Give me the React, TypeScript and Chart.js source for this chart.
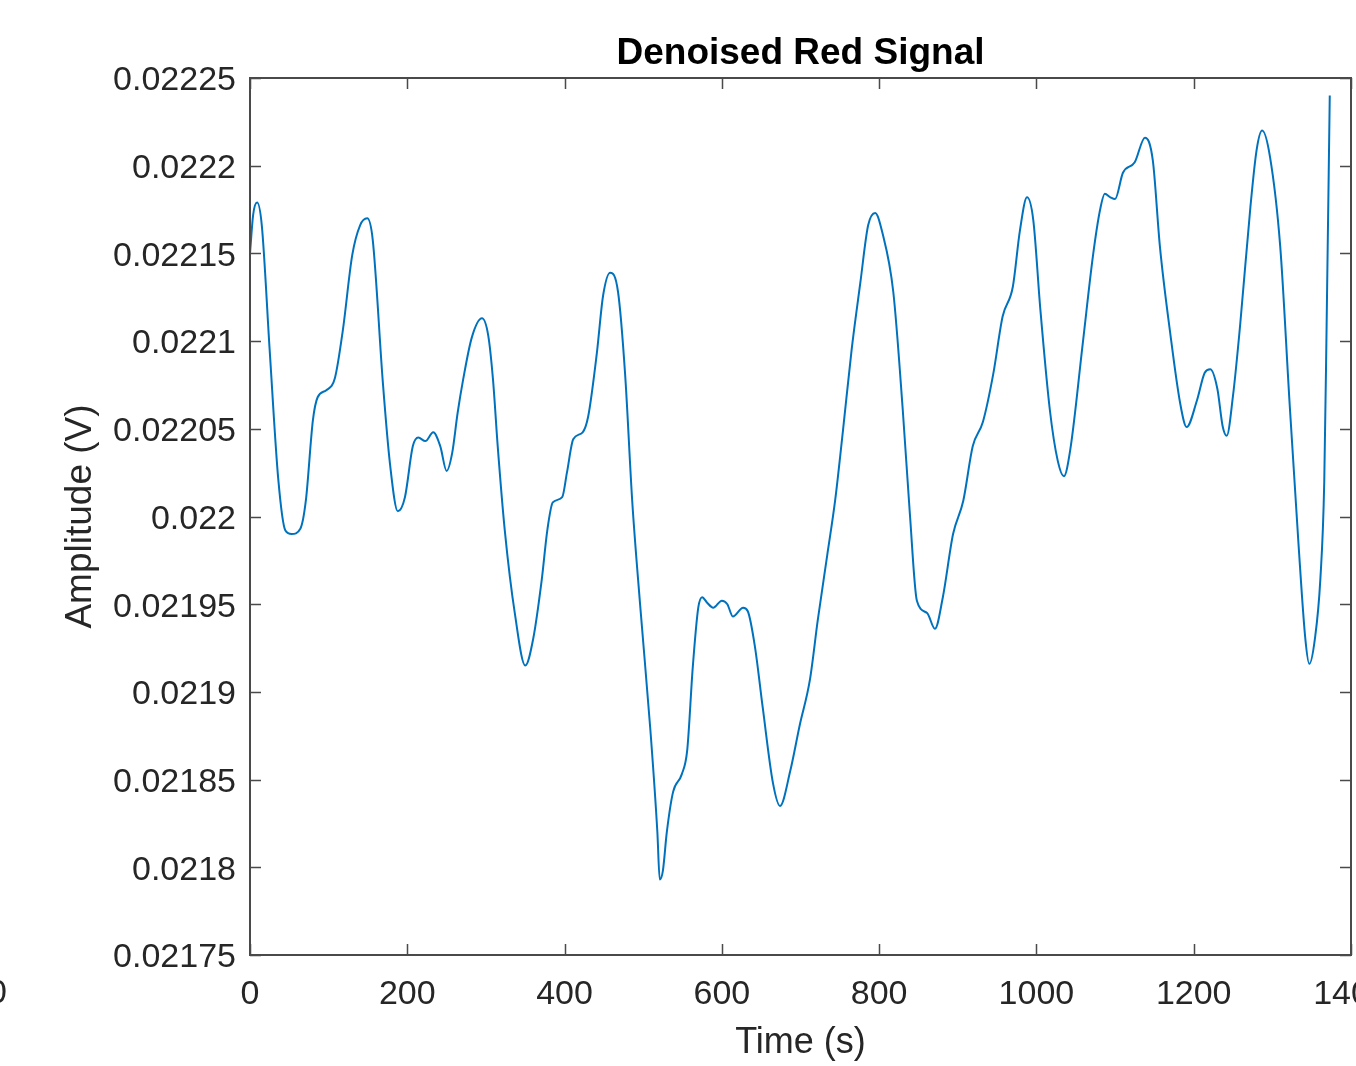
import React, { useEffect, useRef } from "react";
import { Chart, registerables } from "chart.js";

Chart.register(...registerables);

const chartTitle = "Denoised Red Signal";
const xAxisTitle = "Time (s)";
const yAxisTitle = "Amplitude (V)";

const xTicks = [0, 200, 400, 600, 800, 1000, 1200, 1400];
const xTickLabels = ["0", "200", "400", "600", "800", "1000", "1200", "1400"];
const yTicks = [0.02175, 0.0218, 0.02185, 0.0219, 0.02195, 0.022, 0.02205, 0.0221, 0.02215, 0.0222, 0.02225];
const yTickLabels = ["0.02175", "0.0218", "0.02185", "0.0219", "0.02195", "0.022", "0.02205", "0.0221", "0.02215", "0.0222", "0.02225"];

const timeSec = [
  0, 4, 9, 15, 25, 36, 45, 53, 64, 71, 80, 86, 97, 108, 118, 130, 140, 149, 156, 169,
  178, 188, 197, 207, 214, 223, 233, 242, 250, 257, 264, 271, 282, 295, 303, 309, 315, 324, 337, 350,
  360, 371, 378, 385, 397, 403, 411, 423, 430, 441, 449, 458, 468, 477, 486, 496, 509, 518, 521, 525,
  530, 538, 549, 556, 563, 570, 575, 581, 589, 600, 607, 614, 627, 633, 642, 652, 665, 674, 687, 699,
  712, 722, 734, 744, 754, 765, 776, 786, 795, 804, 818, 830, 839, 848, 861, 871, 881, 894, 907, 919,
  932, 945, 957, 970, 979, 988, 996, 1005, 1017, 1027, 1035, 1043, 1059, 1072, 1081, 1087, 1094, 1100, 1110, 1125,
  1138, 1148, 1157, 1170, 1183, 1191, 1204, 1214, 1221, 1230, 1237, 1242, 1250, 1259, 1272, 1280, 1287, 1297, 1310, 1322,
  1333, 1342, 1347, 1354, 1361, 1366, 1369, 1373,
];

const amplitudeV = [
  0.02215, 0.022172, 0.022179, 0.022166, 0.022095, 0.022021, 0.021992, 0.02199, 0.021993, 0.022009,
  0.022055, 0.022068, 0.022072, 0.022079, 0.022106, 0.022149, 0.022166, 0.02217, 0.022158, 0.022076,
  0.02203, 0.022003, 0.022011, 0.02204, 0.022045, 0.022043, 0.022048, 0.02204, 0.022026, 0.022036,
  0.022059, 0.022078, 0.022102, 0.022113, 0.022103, 0.022078, 0.02204, 0.021992, 0.021944, 0.021915,
  0.02193, 0.021964, 0.021992, 0.022008, 0.022011, 0.022025, 0.022044, 0.022048, 0.022057, 0.022093,
  0.022126, 0.022139, 0.022128, 0.022081, 0.022009, 0.02195, 0.021879, 0.02182, 0.021793, 0.021798,
  0.02182, 0.021843, 0.021853, 0.021867, 0.021914, 0.021948, 0.021954, 0.021951, 0.021948, 0.021952,
  0.02195, 0.021943, 0.021948, 0.021946, 0.021926, 0.021891, 0.021848, 0.021835, 0.021855, 0.021881,
  0.021907, 0.021941, 0.021978, 0.022009, 0.022049, 0.022095, 0.022133, 0.022166, 0.022173, 0.022162,
  0.022128, 0.022061, 0.022002, 0.021952, 0.021945, 0.021936, 0.021954, 0.02199, 0.022009, 0.02204,
  0.022054, 0.022081, 0.022114, 0.022131, 0.022163, 0.022182, 0.022169, 0.022118, 0.022061, 0.022032,
  0.022023, 0.022038, 0.022099, 0.022149, 0.022175, 0.022184, 0.022182, 0.022181, 0.022196, 0.022202,
  0.022216, 0.022203, 0.022154, 0.022105, 0.022064, 0.022051, 0.022066, 0.022082, 0.022084, 0.022073,
  0.022051, 0.022046, 0.022069, 0.022109, 0.022176, 0.022209, 0.02222, 0.022205, 0.022154, 0.022064,
  0.021986, 0.02193, 0.021916, 0.02193, 0.021964, 0.02202, 0.022109, 0.02224,
];

const FONT = "'Liberation Sans', Arial, Helvetica, sans-serif";
const AXIS_COLOR = "#262626";
const FRAME_COLOR = "#4a4a4a";
const LINE_COLOR = "#0072BD";

const framePlugin = {
  id: "matlabFrame",
  afterDatasetsDraw(chart: any) {
    const { ctx, chartArea, scales } = chart;
    const { left, right, top, bottom } = chartArea;
    const tickLen = 11;
    ctx.save();
    ctx.strokeStyle = FRAME_COLOR;
    ctx.lineWidth = 2;
    ctx.strokeRect(left, top, right - left, bottom - top);
    ctx.lineWidth = 1.5;
    ctx.beginPath();
    for (const v of xTicks) {
      const px = Math.round(scales.x.getPixelForValue(v)) + 0.5;
      ctx.moveTo(px, bottom);
      ctx.lineTo(px, bottom - tickLen);
      ctx.moveTo(px, top);
      ctx.lineTo(px, top + tickLen);
    }
    for (const v of yTicks) {
      const py = Math.round(scales.y.getPixelForValue(v)) + 0.5;
      ctx.moveTo(left, py);
      ctx.lineTo(left + tickLen, py);
      ctx.moveTo(right, py);
      ctx.lineTo(right - tickLen, py);
    }
    ctx.stroke();
    ctx.restore();
  },
  afterDraw(chart: any) {
    // cut-off tick label of a neighbouring panel at the left edge
    const { ctx } = chart;
    ctx.save();
    ctx.fillStyle = AXIS_COLOR;
    ctx.font = `34px ${FONT}`;
    ctx.textAlign = "right";
    ctx.textBaseline = "middle";
    ctx.fillText("0", 7, 994);
    ctx.restore();
  },
};

export default function App() {
  const canvasRef = useRef<HTMLCanvasElement | null>(null);

  useEffect(() => {
    const canvas = canvasRef.current;
    if (!canvas) return;
    const points = timeSec.map((t, i) => ({ x: t, y: amplitudeV[i] }));
    const chart = new Chart(canvas, {
      type: "line",
      data: {
        datasets: [
          {
            data: points,
            borderColor: LINE_COLOR,
            borderWidth: 2,
            pointRadius: 0,
            fill: false,
            cubicInterpolationMode: "monotone",
          },
        ],
      },
      options: {
        responsive: false,
        animation: false,
        devicePixelRatio: 1,
        events: [],
        layout: { padding: { left: 0, right: 5, top: 0, bottom: 0 } },
        plugins: {
          legend: { display: false },
          tooltip: { enabled: false },
          title: {
            display: true,
            text: chartTitle,
            fullSize: false,
            color: "#000000",
            font: { family: FONT, size: 37, weight: "bold" },
            padding: { top: 32, bottom: 1.6 },
          },
        },
        scales: {
          x: {
            type: "linear",
            min: 0,
            max: 1400,
            grid: { display: false, drawTicks: false },
            border: { display: false },
            afterBuildTicks: (scale: any) => {
              scale.ticks = xTicks.map((v) => ({ value: v }));
            },
            afterFit: (scale: any) => {
              scale.height = 111;
              scale.paddingLeft = 0;
              scale.paddingRight = 0;
              scale.paddingTop = 0;
              scale.paddingBottom = 0;
            },
            ticks: {
              autoSkip: false,
              maxRotation: 0,
              minRotation: 0,
              padding: 19,
              color: AXIS_COLOR,
              font: { family: FONT, size: 34 },
              callback: (_v: any, i: number) => xTickLabels[i],
            },
            title: {
              display: true,
              text: xAxisTitle,
              color: AXIS_COLOR,
              font: { family: FONT, size: 36 },
              padding: { top: 0, bottom: 1 },
            },
          },
          y: {
            type: "linear",
            min: 0.02175,
            max: 0.02225,
            grid: { display: false, drawTicks: false },
            border: { display: false },
            afterBuildTicks: (scale: any) => {
              scale.ticks = yTicks.map((v) => ({ value: v }));
            },
            afterFit: (scale: any) => {
              scale.width = 250;
              scale.paddingLeft = 0;
              scale.paddingRight = 0;
              scale.paddingTop = 0;
              scale.paddingBottom = 0;
            },
            ticks: {
              autoSkip: false,
              padding: 14,
              labelOffset: 3,
              color: AXIS_COLOR,
              font: { family: FONT, size: 34 },
              callback: (_v: any, i: number) => yTickLabels[i],
            },
            title: {
              display: true,
              text: yAxisTitle,
              color: AXIS_COLOR,
              font: { family: FONT, size: 37 },
              padding: { top: 59, bottom: 0 },
            },
          },
        },
      },
      plugins: [framePlugin],
    } as any);
    return () => chart.destroy();
  }, []);

  return (
    <div
      style={{
        position: "fixed",
        left: 0,
        top: 0,
        width: 1356,
        height: 1066,
        background: "#ffffff",
        overflow: "hidden",
      }}
    >
      <canvas ref={canvasRef} width={1356} height={1066} style={{ display: "block" }} />
    </div>
  );
}
